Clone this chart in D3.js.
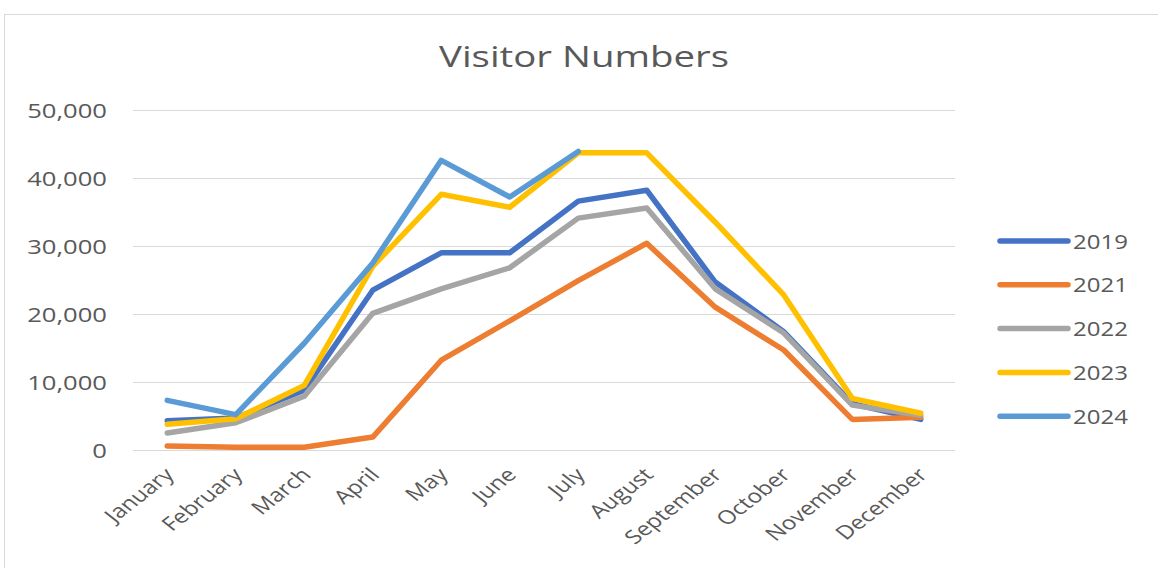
<!DOCTYPE html>
<html>
<head>
<meta charset="utf-8">
<script src="https://cdn.jsdelivr.net/npm/d3@7"></script>
<style>
  body { margin: 0; background: #fff; }
  text { font-family: 'Open Sans', sans-serif; fill: #595959; }
</style>
</head>
<body>
<div id="chart"></div>
<script>
const title = 'Visitor Numbers'
const months = ['January', 'February', 'March', 'April', 'May', 'June', 'July',
  'August', 'September', 'October', 'November', 'December']
const years = ['2019', '2021', '2022', '2023', '2024']
const colors = ['#4472C4', '#ED7D31', '#A5A5A5', '#FFC000', '#5B9BD5']
const v2019 = [4300, 4700, 8800, 23500, 29000, 29000, 36600, 38200, 24700, 17400, 6800, 4500]
const v2021 = [600, 400, 400, 1900, 13200, 19000, 24900, 30400, 21000, 14700, 4500, 4800]
const v2022 = [2500, 4000, 7900, 20100, 23700, 26800, 34100, 35600, 23700, 17200, 6600, 5100]
const v2023 = [3800, 4600, 9500, 27000, 37600, 35700, 43700, 43700, 33500, 22800, 7600, 5400]
const v2024 = [7300, 5200, 15700, 27500, 42600, 37200, 43900]
const yTicks = [0, 10000, 20000, 30000, 40000, 50000]

const series = [v2019, v2021, v2022, v2023, v2024].map((vals, i) => ({
  name: years[i],
  color: colors[i],
  values: vals.map((v, j) => ({ month: months[j], value: v }))
}))

const width = 1158
const height = 568
// the picture is stretched sideways, so text gets the same stretch
const sx = 1.28

const svg = d3.select('#chart')
  .append('svg')
  .attr('width', width)
  .attr('height', height)

// chart border
svg.append('rect')
  .attr('x', 4.5)
  .attr('y', 14.5)
  .attr('width', width)
  .attr('height', height)
  .attr('fill', 'none')
  .attr('stroke', '#d9d9d9')

svg.append('text')
  .attr('transform', `translate(584,67) scale(${sx},1)`)
  .attr('text-anchor', 'middle')
  .style('font-size', '30px')
  .text(title)

const xScale = d3.scaleBand()
  .domain(months)
  .range([133, 955])
  .padding(0)
const xMid = m => xScale(m) + xScale.bandwidth() / 2

const yScale = d3.scaleLinear()
  .domain([0, 50000])
  .range([450, 110])

// grid
const yAxis = d3.axisLeft(yScale)
  .tickValues(yTicks)
  .tickSize(-(955 - 133))
  .tickFormat('')
const yAxisG = svg.append('g')
  .attr('transform', 'translate(133,0)')
  .call(yAxis)
yAxisG.select('.domain').remove()
yAxisG.selectAll('.tick line').attr('stroke', '#d9d9d9').attr('stroke-width', 1.2)

svg.append('g')
  .selectAll('text')
  .data(yTicks)
  .join('text')
  .attr('transform', d => `translate(107,${yScale(d) + 7.5}) scale(${sx},1)`)
  .attr('text-anchor', 'end')
  .style('font-size', '20px')
  .text(d => d3.format(',')(d))

// month labels, rotated
svg.append('g')
  .selectAll('text')
  .data(months)
  .join('text')
  .attr('transform', d => `translate(${xMid(d) + 8},${476}) scale(${sx},1) rotate(-45)`)
  .attr('text-anchor', 'end')
  .style('font-size', '19px')
  .text(d => d)

const line = d3.line()
  .x(d => xMid(d.month))
  .y(d => yScale(d.value))

svg.append('g')
  .selectAll('path')
  .data(series)
  .join('path')
  .attr('d', d => line(d.values))
  .attr('fill', 'none')
  .attr('stroke', d => d.color)
  .attr('stroke-width', 5.5)
  .attr('stroke-linejoin', 'round')
  .attr('stroke-linecap', 'round')

// legend
const legend = svg.append('g')
  .selectAll('g')
  .data(series)
  .join('g')
  .attr('transform', (d, i) => `translate(1000,${241 + i * 43.8})`)
legend.append('line')
  .attr('x1', 0)
  .attr('x2', 68)
  .attr('stroke', d => d.color)
  .attr('stroke-width', 5.5)
  .attr('stroke-linecap', 'round')
legend.append('text')
  .attr('transform', `translate(73,7.5) scale(1.2,1)`)
  .style('font-size', '20px')
  .text(d => d.name)
</script>
</body>
</html>
